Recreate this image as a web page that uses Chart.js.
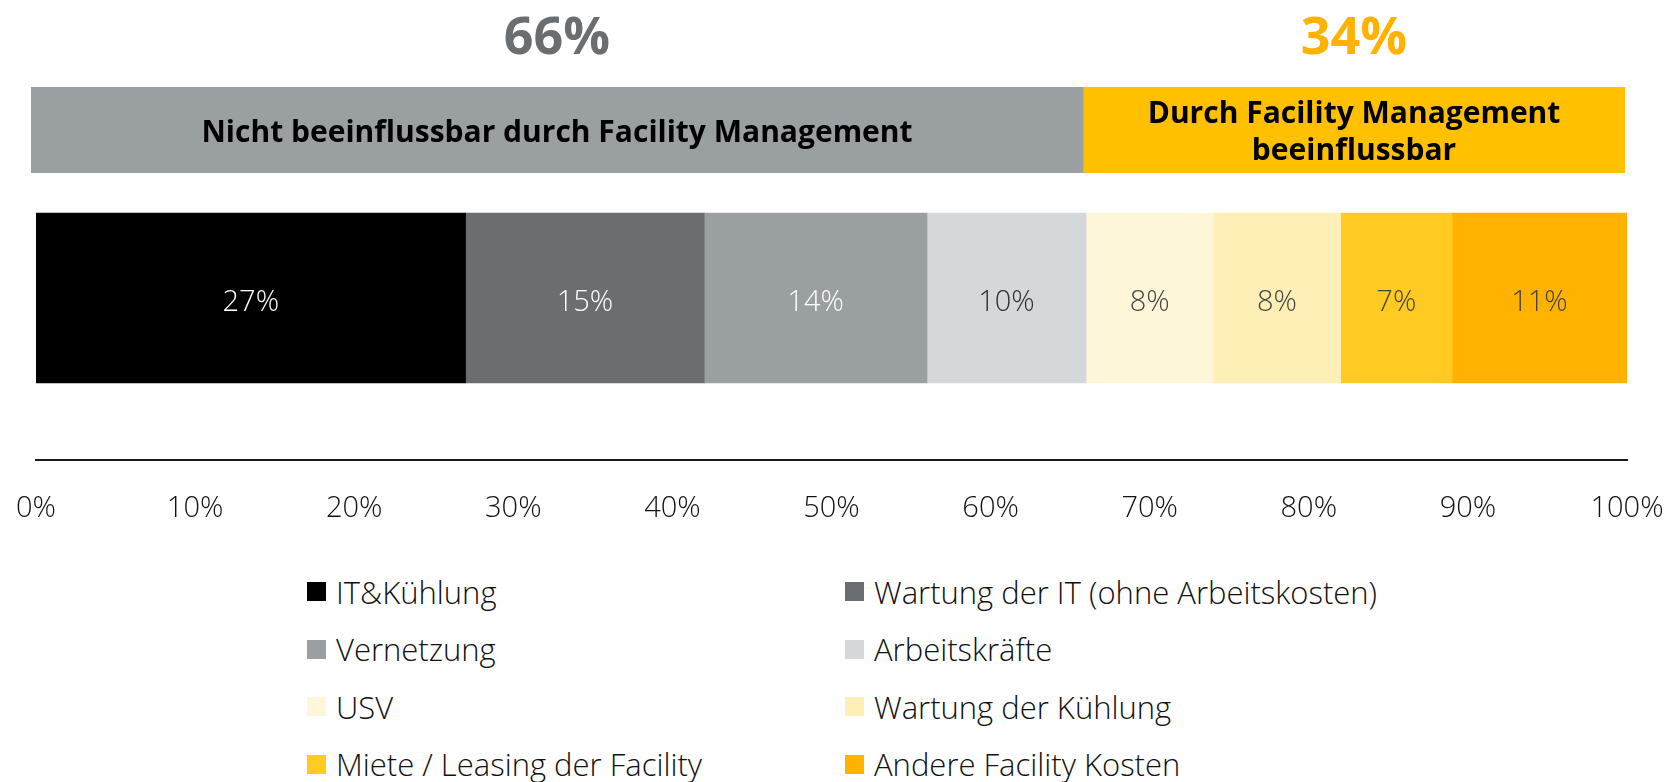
<!DOCTYPE html>
<html>
<head>
<meta charset="utf-8">
<script src="https://cdn.jsdelivr.net/npm/chart.js@4.4.0/dist/chart.umd.min.js"></script>
<style>
  html, body { margin: 0; padding: 0; background: #fff; }
  body { width: 1665px; height: 782px; position: relative; overflow: hidden; font-family: "Open Sans", sans-serif; }
  #topChart { position: absolute; left: 0; top: 0; }
  #mainChart { position: absolute; left: 0; top: 120px; }
  #legend { position: absolute; left: 307px; top: 563px; display: grid; grid-template-columns: 538px auto; grid-auto-rows: 57.5px; }
  .item { display: flex; align-items: center; font-weight: 300; font-size: 31px; color: #111; white-space: nowrap; }
  .box { width: 19px; height: 19px; margin-right: 10px; flex: none; }
</style>
</head>
<body>
<canvas id="topChart" width="1665" height="180"></canvas>
<canvas id="mainChart" width="1665" height="440"></canvas>
<div id="legend"></div>
<script>
// Gruppen (oben)
const groupLabels = [
  ['Nicht beeinflussbar durch Facility Management'],
  ['Durch Facility Management', 'beeinflussbar']
];
const groupValues = [66, 34];
const groupColors = ['#9A9FA2', '#FFC000'];
const groupTitleColors = ['#6A6E71', '#FFB300'];

// Kostenanteile
const costLabels = [
  'IT&Kühlung',
  'Wartung der IT (ohne Arbeitskosten)',
  'Vernetzung',
  'Arbeitskräfte',
  'USV',
  'Wartung der Kühlung',
  'Miete / Leasing der Facility',
  'Andere Facility Kosten'
];
const costValues = [27, 15, 14, 10, 8, 8, 7, 11];
const costColors = ['#000000', '#6A6E71', '#9A9FA2', '#D4D8DB', '#FDF6D8', '#FEEFB6', '#FFCA22', '#FFB300'];
const costTextColors = ['#ffffff', '#ffffff', '#ffffff', '#2e2e2e', '#444444', '#444444', '#444444', '#444444'];

const xTicks = [0, 10, 20, 30, 40, 50, 60, 70, 80, 90, 100];

// labels on the group banner + big percentages above
const groupLabelPlugin = {
  id: 'groupLabels',
  afterDatasetsDraw(chart) {
    const ctx = chart.ctx;
    ctx.save();
    ctx.textAlign = 'center';
    ctx.textBaseline = 'middle';
    chart.data.datasets.forEach((ds, i) => {
      const bar = chart.getDatasetMeta(i).data[0];
      const cx = (bar.x + bar.base) / 2;
      const lines = groupLabels[i];
      ctx.fillStyle = '#000';
      ctx.font = 'bold 30px "Open Sans"';
      const lh = 37;
      lines.forEach((t, k) => {
        ctx.fillText(t, cx, bar.y + 3 + (k - (lines.length - 1) / 2) * lh);
      });
      ctx.fillStyle = groupTitleColors[i];
      ctx.font = 'bold 52px "Open Sans"';
      ctx.fillText(groupValues[i] + '%', cx, bar.y - bar.height / 2 - 48);
    });
    ctx.restore();
  }
};

const segmentLabelPlugin = {
  id: 'segmentLabels',
  afterDatasetsDraw(chart) {
    const ctx = chart.ctx;
    ctx.save();
    ctx.textAlign = 'center';
    ctx.textBaseline = 'middle';
    ctx.font = '300 29px "Open Sans"';
    chart.data.datasets.forEach((ds, i) => {
      const bar = chart.getDatasetMeta(i).data[0];
      ctx.fillStyle = costTextColors[i];
      ctx.fillText(costValues[i] + '%', (bar.x + bar.base) / 2, bar.y + 5);
    });
    ctx.restore();
  }
};

const htmlLegendPlugin = {
  id: 'htmlLegend',
  afterUpdate(chart) {
    const box = document.getElementById('legend');
    box.innerHTML = '';
    chart.data.datasets.forEach(ds => {
      const item = document.createElement('div');
      item.className = 'item';
      const sq = document.createElement('span');
      sq.className = 'box';
      sq.style.background = ds.backgroundColor;
      const txt = document.createElement('span');
      txt.textContent = ds.label;
      item.appendChild(sq);
      item.appendChild(txt);
      box.appendChild(item);
    });
  }
};

function createTopChart() {
  const ctx = document.getElementById('topChart').getContext('2d');
  return new Chart(ctx, {
    type: 'bar',
    data: {
      labels: [''],
      datasets: groupLabels.map((l, i) => ({
        label: l.join(' '),
        data: [groupValues[i]],
        backgroundColor: groupColors[i],
        barThickness: 86,
        borderWidth: 0
      }))
    },
    options: {
      indexAxis: 'y',
      responsive: false,
      animation: false,
      layout: { padding: { left: 31, right: 40, top: 87, bottom: 7 } },
      scales: {
        x: { stacked: true, min: 0, max: 100, display: false },
        y: { stacked: true, display: false }
      },
      plugins: { legend: { display: false }, tooltip: { enabled: false } }
    },
    plugins: [groupLabelPlugin]
  });
}

function createMainChart() {
  const ctx = document.getElementById('mainChart').getContext('2d');
  return new Chart(ctx, {
    type: 'bar',
    data: {
      labels: [''],
      datasets: costLabels.map((l, i) => ({
        label: l,
        data: [costValues[i]],
        backgroundColor: costColors[i],
        barThickness: 170,
        borderWidth: 0
      }))
    },
    options: {
      indexAxis: 'y',
      responsive: false,
      animation: false,
      layout: { padding: { left: 36, right: 38, top: 16, bottom: 20 } },
      scales: {
        x: {
          stacked: true,
          min: 0,
          max: 100,
          afterBuildTicks(scale) { scale.ticks = xTicks.map(v => ({ value: v })); },
          afterFit(scale) {
            scale.height = 80;
            // tick padding would otherwise push the plot inwards
            scale.paddingLeft = 0;
            scale.paddingRight = 0;
          },
          grid: { display: false, drawTicks: false },
          border: { display: true, color: '#1a1a1a', width: 2 },
          ticks: {
            padding: 31,
            color: '#111',
            font: { family: '"Open Sans"', size: 29, weight: 300 },
            callback: v => v + '%'
          }
        },
        y: { stacked: true, display: false }
      },
      plugins: { legend: { display: false }, tooltip: { enabled: false } }
    },
    plugins: [segmentLabelPlugin, htmlLegendPlugin]
  });
}

const myTopChart = createTopChart();
const myMainChart = createMainChart();
</script>
</body>
</html>
